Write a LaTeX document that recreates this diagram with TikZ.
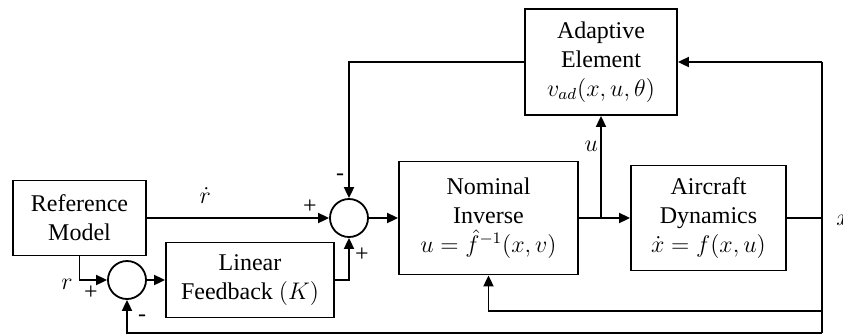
\documentclass[tikz,border=0pt]{standalone}
\usepackage{fontspec}
\setmainfont{Liberation Serif}
\usetikzlibrary{arrows.meta,positioning,calc}
\tikzset{
  blk/.style={draw, line width=0.9pt, align=center, inner sep=2pt,
              font=\fontsize{12}{14.5}\selectfont},
  sumpt/.style={draw, circle, line width=0.9pt, minimum size=19pt, inner sep=0pt},
  sig/.style={-{Triangle[length=5.5pt,width=5pt]}, line width=0.9pt},
  wire/.style={line width=0.9pt},
  sgn/.style={font=\fontsize{12}{12}\selectfont, inner sep=1pt},
}

\begin{document}
\begin{tikzpicture}[x=0.5pt,y=-0.5pt]
  \useasboundingbox (0,0) rectangle (843,334);
  % blocks
  \node[blk, minimum width=66.5pt, minimum height=37.5pt] (ref) at (79.5,218) {Reference\\Model};
  \node[sumpt] (sum1) at (127,280) {};
  \node[blk, minimum width=84pt, minimum height=37.5pt] (lin) at (250,280) {Linear\\Feedback $(K)$};
  \node[sumpt] (sum2) at (349,218) {};
  \node[blk, minimum width=89.5pt, minimum height=56.5pt] (nom) at (488.5,218) {Nominal\\Inverse\\$u=\hat{f}^{-1}(x,v)$};
  \node[blk, minimum width=77.5pt, minimum height=52.5pt] (air) at (708.5,218) {Aircraft\\Dynamics\\$\dot{x}=f(x,u)$};
  \node[blk, minimum width=76pt, minimum height=53pt] (ada) at (601,62) {Adaptive\\Element\\$v_{ad}(x,u,\theta)$};
  % corner points
  \coordinate (br) at (601,218);
  \coordinate (bus) at (822,218);
  \coordinate (top) at (822,62);
  \coordinate (fb) at (822,311);
  \coordinate (bot) at (822,333);
  % forward path
  \draw[sig] (ref) -- node[pos=0.32, above=6pt, sgn] {$\dot{r}$} (sum2);
  \draw[sig] (ref.south) |- node[pos=0.5, below left=-2pt and 2pt, sgn] {$r$} (sum1.west);
  \draw[sig] (sum1) -- (lin);
  \draw[sig] (lin.east) -| (sum2.south);
  \draw[sig] (sum2) -- (nom);
  \draw[sig] (nom) -- (air);
  \draw[sig] (br) -- node[pos=0.7, left, sgn] {$u$} (br |- ada.south);
  \draw[wire] (air.east) -- (bus);
  \node[sgn, anchor=west] (xout) at (834,220) {$x$};
  % feedback paths
  \draw[wire] (top) -- (bot);
  \draw[sig] (top) -- (ada.east);
  \draw[sig] (ada.west) -| (sum2.north);
  \draw[sig] (fb) -| (nom.south);
  \draw[sig] (bot) -| (sum1.south);
  % signs
  \node[sgn] (p1) at (91,293) {+};
  \node[sgn] (m1) at (142,318) {-};
  \node[sgn] (p2) at (310,207) {+};
  \node[sgn] (p3) at (362,255) {+};
  \node[sgn] (m2) at (340,177) {-};
\end{tikzpicture}
\end{document}
